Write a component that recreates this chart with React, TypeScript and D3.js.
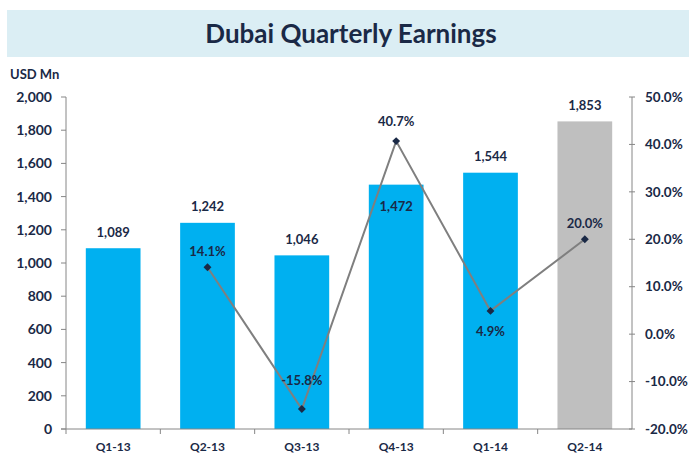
import React from "react";
import * as d3 from "d3";

const categories = ["Q1-13", "Q2-13", "Q3-13", "Q4-13", "Q1-14", "Q2-14"];
const earnings = [1089, 1242, 1046, 1472, 1544, 1853];
const growth: (number | null)[] = [null, 14.1, -15.8, 40.7, 4.9, 20.0];
const leftTicks = [0, 200, 400, 600, 800, 1000, 1200, 1400, 1600, 1800, 2000];
const rightTicks = [-20, -10, 0, 10, 20, 30, 40, 50];
// label placement: bar label inside for Q4-13; growth label below for Q1-14
const barLabelInside = [false, false, false, true, false, false];
const growthLabelBelow = [false, false, false, false, true, false];
const forecast = [false, false, false, false, false, true];

const W = 689, H = 456;
const left = 66, right = 632, top = 97, bottom = 429;
const textColor = "#1A2946";
const font = "Lato, 'Open Sans', sans-serif";

export default function App() {
  const x = d3.scaleBand<string>().domain(categories).range([left, right]).paddingInner(0.42).paddingOuter(0.21);
  const xb = d3.scaleBand<string>().domain(categories).range([left, right]);
  const y = d3.scaleLinear().domain([0, 2000]).range([bottom, top]);
  const y2 = d3.scaleLinear().domain([-20, 50]).range([bottom, top]);
  const fmt = d3.format(",");
  const pts = categories
    .map((c, i) => ({ c, v: growth[i], i }))
    .filter((d) => d.v !== null) as { c: string; v: number; i: number }[];
  const line = d3
    .line<{ c: string; v: number }>()
    .x((d) => xb(d.c)! + xb.bandwidth() / 2)
    .y((d) => y2(d.v));
  const diamond = d3.symbol().type(d3.symbolDiamond2).size(40)();

  return (
    <svg width={W} height={H} style={{ position: "absolute", left: 0, top: 0, fontFamily: font }}>
      <rect x={0} y={0} width={W} height={H} fill="#fff" />
      <rect x={7} y={10} width={682} height={47} fill="#DBEEF4" />
      <text x={351} y={43} textAnchor="middle" fontSize={26} fontWeight={700} fill={textColor}>
        Dubai Quarterly Earnings
      </text>
      <text x={10} y={79} fontSize={13} fontWeight={700} fill={textColor}>USD Mn</text>

      {categories.map((c, i) => (
        <rect key={c} x={x(c)} y={y(earnings[i])} width={x.bandwidth()} height={bottom - y(earnings[i])}
          fill={forecast[i] ? "#BFBFBF" : "#00B0F0"} />
      ))}

      {/* axes */}
      <line x1={left} x2={left} y1={top} y2={bottom} stroke="#868686" />
      <line x1={right} x2={right} y1={top} y2={bottom} stroke="#868686" />
      <line x1={left - 5} x2={right} y1={bottom} y2={bottom} stroke="#868686" />
      {leftTicks.map((t) => (
        <g key={t}>
          <line x1={left - 5} x2={left} y1={y(t)} y2={y(t)} stroke="#868686" />
          <text x={52} y={y(t)} dy="0.35em" textAnchor="end" fontSize={14} fontWeight={700} fill={textColor}>
            {fmt(t)}
          </text>
        </g>
      ))}
      {rightTicks.map((t) => (
        <g key={t}>
          <line x1={right - 3} x2={right + 3} y1={y2(t)} y2={y2(t)} stroke="#868686" />
          <text x={645} y={y2(t)} dy="0.35em" textAnchor="start" fontSize={13.5} fontWeight={700} fill={textColor}>
            {t.toFixed(1)}%
          </text>
        </g>
      ))}
      {categories.map((c) => (
        <line key={"t" + c} x1={xb(c)} x2={xb(c)} y1={bottom} y2={bottom + 5} stroke="#868686" />
      ))}
      {categories.map((c) => (
        <text key={"l" + c} x={xb(c)! + xb.bandwidth() / 2} y={451} textAnchor="middle" fontSize={12} fontWeight={700} fill={textColor}>
          {c}
        </text>
      ))}

      {/* bar labels */}
      {categories.map((c, i) => (
        <text key={"v" + c} x={x(c)! + x.bandwidth() / 2} y={barLabelInside[i] ? y(earnings[i]) + 22 : y(earnings[i]) - 16}
          dy="0.35em" textAnchor="middle" fontSize={13} fontWeight={700} fill={textColor}>
          {fmt(earnings[i])}
        </text>
      ))}

      {/* growth line */}
      <path d={line(pts)!} fill="none" stroke="#7F7F7F" strokeWidth={2} />
      {pts.map((d) => (
        <g key={"p" + d.c}>
          <path d={diamond!} transform={`translate(${xb(d.c)! + xb.bandwidth() / 2},${y2(d.v)})`} fill={textColor} />
          <text x={xb(d.c)! + xb.bandwidth() / 2}
            y={growthLabelBelow[d.i] ? y2(d.v) + 21 : y2(d.v) - (d.v < 0 ? 29 : d.v > 30 ? 20 : 16)}
            dy="0.35em" textAnchor="middle" fontSize={13} fontWeight={700} fill={textColor}>
            {d.v.toFixed(1)}%
          </text>
        </g>
      ))}
    </svg>
  );
}
